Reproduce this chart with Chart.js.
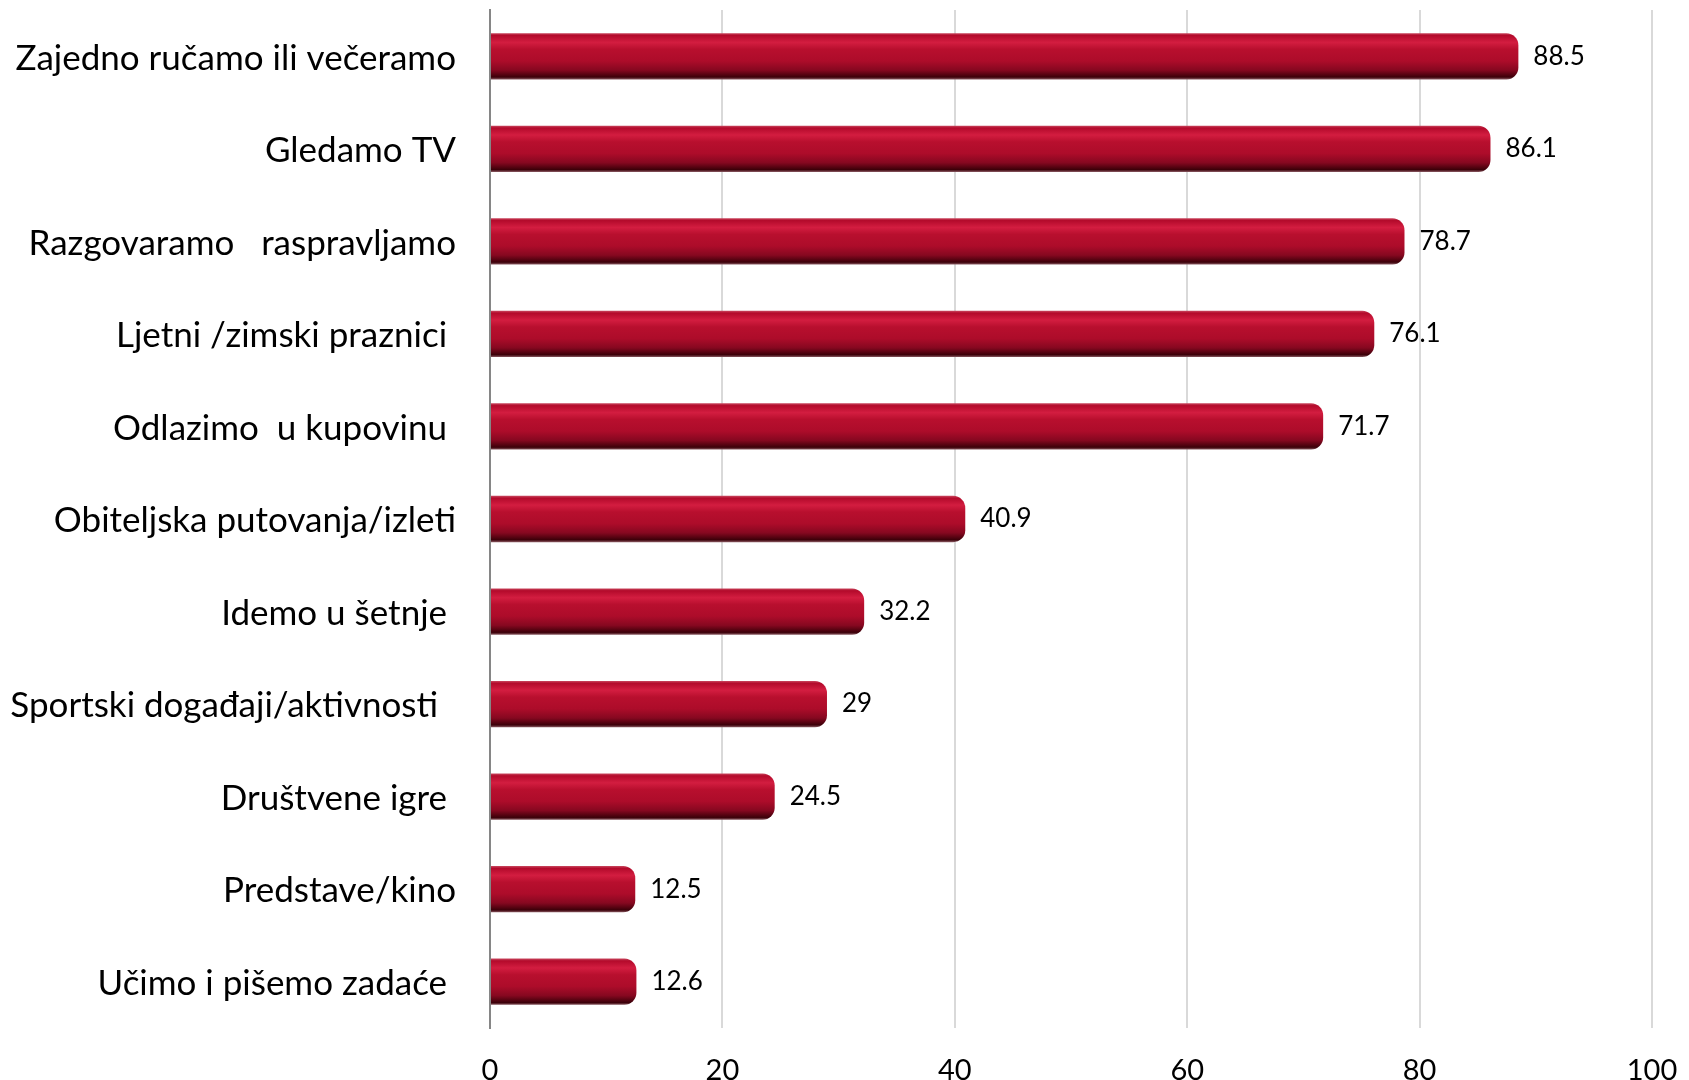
<!DOCTYPE html>
<html>
<head>
<meta charset="utf-8">
<script src="https://cdn.jsdelivr.net/npm/chart.js@4/dist/chart.umd.min.js"></script>
<style>
  body { margin: 0; background: #fff; }
  #wrap { width: 1689px; height: 1080px; }
</style>
</head>
<body>
<div id="wrap"><canvas id="canvas1" width="1689" height="1080"></canvas></div>
<script>
var aktivnosti = [
  "Zajedno ručamo ili večeramo",
  "Gledamo TV",
  "Razgovaramo   raspravljamo",
  "Ljetni /zimski praznici ",
  "Odlazimo  u kupovinu ",
  "Obiteljska putovanja/izleti",
  "Idemo u šetnje ",
  "Sportski događaji/aktivnosti  ",
  "Društvene igre ",
  "Predstave/kino",
  "Učimo i pišemo zadaće "
];
var postoci = [88.5, 86.1, 78.7, 76.1, 71.7, 40.9, 32.2, 29, 24.5, 12.5, 12.6];
var osTicks = [0, 20, 40, 60, 80, 100];

var fontFam = "Lato, 'Open Sans', sans-serif";

// valjak efekt na stupcima
function bojaStupca(c) {
  var chart = c.chart;
  var y = chart.scales.y;
  if (!y || c.dataIndex === undefined) return '#b00c2c';
  var cy = y.getPixelForValue(c.dataIndex);
  var h = (y.getPixelForValue(1) - y.getPixelForValue(0)) * 0.5;
  if (!isFinite(cy) || !isFinite(h) || h <= 0) return '#b00c2c';
  var g = chart.ctx.createLinearGradient(0, cy - h / 2, 0, cy + h / 2);
  g.addColorStop(0, '#c9485f');
  g.addColorStop(0.05, '#b30a2b');
  g.addColorStop(0.2, '#d31d40');
  g.addColorStop(0.35, '#b80f2e');
  g.addColorStop(0.6, '#ad0c2a');
  g.addColorStop(0.8, '#860820');
  g.addColorStop(0.95, '#3c0009');
  g.addColorStop(1, '#8a5a62');
  return g;
}

var oznake = {
  id: 'oznake',
  afterDatasetsDraw: function(chart) {
    var ctx = chart.ctx;
    var meta = chart.getDatasetMeta(0);
    ctx.save();
    ctx.font = '26px ' + fontFam;
    ctx.fillStyle = '#000';
    ctx.textAlign = 'left';
    ctx.textBaseline = 'middle';
    meta.data.forEach(function(bar, i) {
      ctx.fillText(String(postoci[i]), bar.x + 15, bar.y);
    });
    ctx.restore();
  }
};

var ctx = document.getElementById('canvas1').getContext('2d');
var grafikon = new Chart(ctx, {
  type: 'bar',
  data: {
    labels: aktivnosti,
    datasets: [{
      data: postoci,
      backgroundColor: bojaStupca,
      borderWidth: 0,
      borderRadius: 12,
      borderSkipped: 'start',
      categoryPercentage: 1,
      barPercentage: 0.5
    }]
  },
  options: {
    indexAxis: 'y',
    responsive: false,
    animation: false,
    layout: { padding: { top: 10, right: 37, left: 0, bottom: 0 } },
    plugins: {
      legend: { display: false },
      tooltip: { enabled: false }
    },
    scales: {
      x: {
        min: 0,
        max: 100,
        afterBuildTicks: function(s) { s.ticks = osTicks.map(function(v) { return { value: v }; }); },
        grid: { color: '#d9d9d9', lineWidth: 2, drawTicks: false },
        border: { display: false },
        ticks: { color: '#000', font: { size: 29, family: fontFam }, padding: 25 },
        afterFit: function(s) { s.height = 52; s.paddingLeft = 0; s.paddingRight = 0; }
      },
      y: {
        grid: { display: false, drawTicks: false },
        border: { display: true, color: '#868686', width: 2 },
        ticks: { color: '#000', font: { size: 35, family: fontFam }, padding: 34, labelOffset: 2, autoSkip: false },
        afterFit: function(s) { s.width = 490; s.paddingTop = 0; s.paddingBottom = 0; }
      }
    }
  },
  plugins: [oznake]
});
</script>
</body>
</html>
